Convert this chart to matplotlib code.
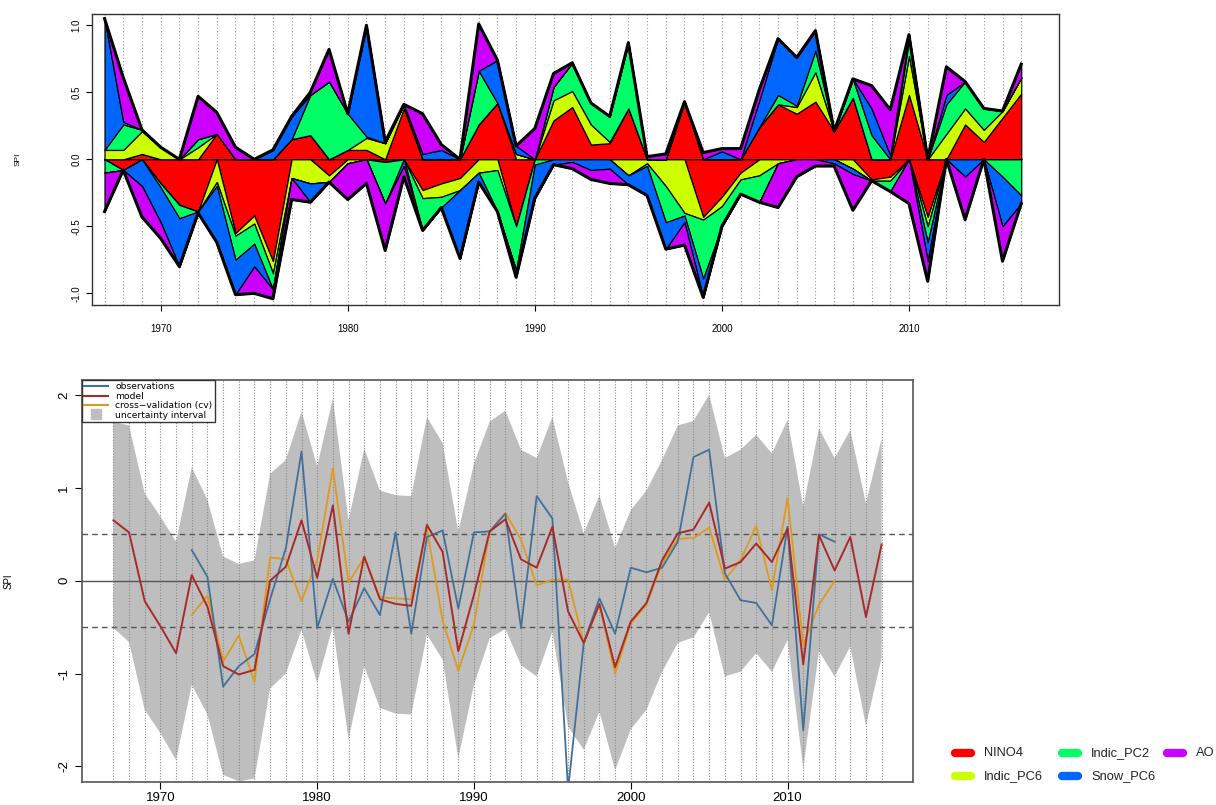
import numpy as np
import matplotlib
matplotlib.use("Agg")
import matplotlib.pyplot as plt
from matplotlib.lines import Line2D

plt.rcParams['font.family'] = ['Liberation Sans', 'DejaVu Sans']
plt.rcParams['axes.unicode_minus'] = False

years = list(range(1967, 2017))

# predictor contributions to SPI (stacked panel)
nino4 = [0.00, -0.08, 0.04, -0.18, -0.34, -0.39, 0.19, -0.55, -0.42, -0.76,
         0.15, 0.18, -0.12, 0.07, 0.07, -0.02, 0.38, -0.23, -0.18, -0.14,
         0.26, 0.42, -0.50, 0.00, 0.29, 0.39, 0.11, 0.12, 0.38, 0.00,
         0.00, 0.43, -0.43, -0.28, -0.10, 0.24, 0.41, 0.34, 0.43, 0.21,
         0.46, -0.15, -0.13, 0.48, -0.43, 0.00, 0.26, 0.13, 0.31, 0.49]
indic_pc6 = [0.07, 0.07, 0.17, 0.09, 0.00, 0.09, -0.17, -0.02, -0.06, -0.09,
             -0.14, -0.18, -0.05, -0.03, 0.09, 0.12, 0.03, -0.06, -0.10, -0.09,
             -0.10, -0.08, 0.04, 0.00, 0.15, 0.12, 0.15, 0.01, -0.12, -0.03,
             -0.20, -0.40, -0.02, -0.07, -0.05, -0.12, -0.03, 0.05, 0.22, 0.00,
             -0.07, -0.01, -0.03, 0.29, -0.07, 0.19, 0.12, 0.09, 0.05, 0.12]
indic_pc2 = [-0.10, 0.19, 0.01, -0.03, -0.10, 0.06, -0.03, -0.18, -0.15, -0.12,
             0.00, 0.30, 0.58, 0.27, 0.01, -0.31, 0.00, -0.24, -0.08, 0.00,
             0.40, -0.31, -0.33, -0.04, 0.10, 0.21, 0.16, 0.19, 0.49, -0.02,
             -0.27, -0.02, -0.44, -0.15, -0.11, -0.20, 0.07, 0.01, 0.16, 0.00,
             0.14, 0.18, -0.08, 0.12, -0.12, 0.22, 0.20, 0.16, -0.13, -0.27]
snow_pc6 = [0.98, 0.02, -0.20, -0.26, -0.36, -0.01, -0.42, -0.26, -0.17, 0.07,
            0.17, -0.14, 0.00, 0.00, 0.83, 0.01, -0.05, 0.04, 0.07, -0.51,
            -0.07, 0.32, 0.06, -0.25, -0.04, -0.02, -0.08, -0.07, -0.07, -0.22,
            -0.20, -0.05, -0.14, 0.06, 0.00, 0.20, 0.42, 0.36, 0.15, -0.03,
            -0.04, 0.20, 0.03, 0.04, -0.14, 0.07, -0.13, 0.00, -0.37, -0.06]
ao = [-0.29, 0.33, -0.23, -0.12, 0.00, 0.32, 0.16, 0.09, -0.20, -0.07,
      -0.16, 0.02, 0.24, -0.27, -0.18, -0.35, -0.08, 0.30, 0.04, 0.00,
      0.35, 0.00, -0.05, 0.23, 0.10, -0.05, -0.07, -0.11, 0.00, 0.02,
      0.04, -0.17, 0.05, 0.02, 0.08, 0.08, -0.33, -0.13, -0.05, -0.02,
      -0.27, 0.17, 0.34, -0.33, -0.15, 0.21, -0.32, 0.00, -0.26, 0.10]

predictor_names = ["NINO4", "Indic_PC6", "Indic_PC2", "Snow_PC6", "AO"]
predictor_colors = ["#FF0000", "#CCFF00", "#00FF66", "#0066FF", "#CC00FF"]

# observed / modelled SPI (lower panel)
nan = float("nan")
observations = [nan, nan, nan, nan, nan, 0.33, 0.04, -1.14, -0.92, -0.79,
                -0.20, 0.35, 1.39, -0.51, 0.02, -0.44, -0.08, -0.37, 0.52, -0.57,
                0.47, 0.54, -0.30, 0.52, 0.53, 0.72, -0.51, 0.91, 0.67, -2.25,
                -0.67, -0.19, -0.57, 0.14, 0.09, 0.14, 0.42, 1.33, 1.41, 0.08,
                -0.21, -0.24, -0.48, 0.58, -1.61, 0.50, 0.42, nan, nan, nan]
model = [0.65, 0.52, -0.22, -0.49, -0.78, 0.06, -0.28, -0.92, -1.01, -0.96,
         0.00, 0.15, 0.65, 0.03, 0.81, -0.57, 0.26, -0.20, -0.25, -0.27,
         0.60, 0.31, -0.76, -0.15, 0.53, 0.66, 0.23, 0.14, 0.58, -0.33,
         -0.67, -0.25, -0.93, -0.44, -0.24, 0.22, 0.51, 0.55, 0.84, 0.13,
         0.20, 0.40, 0.20, 0.56, -0.90, 0.49, 0.11, 0.47, -0.39, 0.39]
cross_validation = [nan, nan, nan, nan, nan, -0.37, -0.16, -0.87, -0.59, -1.09,
                    0.25, 0.23, -0.22, 0.22, 1.21, -0.02, 0.25, -0.18, -0.19, -0.20,
                    0.56, -0.43, -0.97, -0.47, 0.53, 0.73, 0.44, -0.05, 0.01, 0.01,
                    -0.67, -0.26, -1.00, -0.46, -0.26, 0.19, 0.45, 0.46, 0.57, 0.01,
                    0.22, 0.59, -0.10, 0.89, -0.69, -0.26, 0.00, nan, nan, nan]
upper_bound = [1.71, 1.67, 0.94, 0.69, 0.42, 1.22, 0.87, 0.26, 0.18, 0.22,
               1.15, 1.30, 1.82, 1.23, 1.96, 0.65, 1.42, 0.97, 0.92, 0.91,
               1.76, 1.48, 0.53, 1.26, 1.71, 1.83, 1.41, 1.32, 1.76, 1.06,
               0.51, 0.92, 0.35, 0.76, 0.97, 1.30, 1.67, 1.72, 2.00, 1.32,
               1.41, 1.57, 1.37, 1.73, 0.80, 1.64, 1.32, 1.62, 0.83, 1.53]
lower_bound = [-0.51, -0.66, -1.39, -1.64, -1.93, -1.12, -1.44, -2.09, -2.16, -2.13,
               -1.16, -1.00, -0.53, -1.10, -0.49, -1.71, -0.92, -1.37, -1.43, -1.44,
               -0.58, -0.85, -1.91, -1.12, -0.62, -0.52, -0.91, -1.03, -0.55, -1.57,
               -1.82, -1.41, -2.04, -1.60, -1.39, -0.98, -0.67, -0.61, -0.34, -1.03,
               -0.98, -0.78, -0.98, -0.64, -2.02, -0.76, -1.03, -0.71, -1.56, -0.83]

yr = np.array(years, dtype=float)

W, H = 1216, 805
fig = plt.figure(figsize=(W / 100, H / 100), dpi=100)

# ---------------- stacked contributions ----------------
ax1 = fig.add_axes([92 / W, 1 - 305 / H, (1059 - 92) / W, (305 - 14) / H])
series = [np.array(s) for s in (nino4, indic_pc6, indic_pc2, snow_pc6, ao)]
for y in years:
    ax1.axvline(y, color="#999999", linestyle=(0, (1, 2)), linewidth=0.8, zorder=0)

pos_base = np.zeros_like(yr)
neg_base = np.zeros_like(yr)
for vals, col in zip(series, predictor_colors):
    p = np.clip(vals, 0, None)
    n = np.clip(vals, None, 0)
    ax1.fill_between(yr, pos_base, pos_base + p, facecolor=col,
                     edgecolor="black", linewidth=0.9, zorder=2)
    ax1.fill_between(yr, neg_base, neg_base + n, facecolor=col,
                     edgecolor="black", linewidth=0.9, zorder=2)
    pos_base = pos_base + p
    neg_base = neg_base + n
ax1.plot(yr, pos_base, color="black", linewidth=2.2, zorder=3)
ax1.plot(yr, neg_base, color="black", linewidth=2.2, zorder=3)

ax1.set_xlim(1966.33, 2018.02)
ax1.set_ylim(-1.087, 1.084)
ax1.set_xticks([1970, 1980, 1990, 2000, 2010])
ax1.set_yticks([-1.0, -0.5, 0.0, 0.5, 1.0])
ax1.set_yticklabels(["-1.0", "-0.5", "0.0", "0.5", "1.0"])
ax1.tick_params(axis="both", labelsize=7, length=4, width=0.8, direction="out")
ax1.tick_params(axis="x", pad=10)
for lbl in ax1.get_yticklabels():
    lbl.set_rotation(90)
    lbl.set_va("center")
for sp in ax1.spines.values():
    sp.set_linewidth(1.0)
    sp.set_color("#333333")
ax1.set_ylabel("SPI", fontsize=6, labelpad=36)

# ---------------- observations vs model ----------------
ax2 = fig.add_axes([82 / W, 1 - 782 / H, (913 - 82) / W, (782 - 380) / H])
ax2.fill_between(yr, lower_bound, upper_bound, facecolor="#bebebe",
                 edgecolor="none", zorder=1)
for y in years:
    ax2.axvline(y, color="#8a8a8a", linestyle=(0, (1, 1.5)), linewidth=0.8, zorder=2)
ax2.axhline(0, color="#555555", linewidth=1.0, zorder=2)
ax2.axhline(0.5, color="#555555", linewidth=1.0, linestyle=(0, (4, 3)), zorder=2)
ax2.axhline(-0.5, color="#555555", linewidth=1.0, linestyle=(0, (4, 3)), zorder=2)

obs_col, mod_col, cv_col = "#41709c", "#a82a2a", "#e09a1a"
ax2.plot(yr, cross_validation, color=cv_col, linewidth=1.3, zorder=3)
ax2.plot(yr, observations, color=obs_col, linewidth=1.3, zorder=4)
ax2.plot(yr, model, color=mod_col, linewidth=1.4, zorder=5)

ax2.set_xlim(1965.0, 2018.0)
ax2.set_ylim(-2.167, 2.16)
ax2.set_xticks([1970, 1980, 1990, 2000, 2010])
ax2.set_yticks([-2, -1, 0, 1, 2])
ax2.tick_params(axis="both", labelsize=9.5, length=5, width=0.8, direction="out")
ax2.tick_params(axis="x", pad=2)
for lbl in ax2.get_yticklabels():
    lbl.set_rotation(90)
    lbl.set_va("center")
for sp in ax2.spines.values():
    sp.set_linewidth(1.2)
    sp.set_color("#555555")
ax2.set_ylabel("SPI", fontsize=7, labelpad=32)

leg_handles = [
    Line2D([], [], color=obs_col, linewidth=1.5),
    Line2D([], [], color=mod_col, linewidth=1.5),
    Line2D([], [], color=cv_col, linewidth=1.5),
    Line2D([], [], color="#bebebe", marker="s", markersize=7, linestyle="none"),
]
leg2 = ax2.legend(leg_handles,
                  ["observations", "model", "cross\u2212validation (cv)", "uncertainty interval"],
                  loc="upper left", prop={"family": "DejaVu Sans", "size": 6.6},
                  frameon=True, fancybox=False,
                  borderaxespad=0, handlelength=2.6, handletextpad=0.8,
                  labelspacing=0.05, borderpad=0.25, framealpha=1)
leg2.get_frame().set_edgecolor("#333333")
leg2.get_frame().set_linewidth(1.0)
leg2.set_zorder(10)

# ---------------- predictor key (three columns, two rows) ----------------
key_cols_px = [950, 1057, 1162]
key_rows_px = [753, 776]
for i, (name, col) in enumerate(zip(predictor_names, predictor_colors)):
    cx = key_cols_px[i // 2]
    ry = key_rows_px[i % 2]
    fy = 1 - ry / H
    fig.add_artist(Line2D([(cx + 5) / W, (cx + 21) / W], [fy, fy],
                          transform=fig.transFigure, color=col, linewidth=6,
                          solid_capstyle="round"))
    fig.text((cx + 34) / W, fy, name, ha="left", va="center",
             fontsize=9.3, color="#222222")

fig.savefig("out.png", dpi=100)
